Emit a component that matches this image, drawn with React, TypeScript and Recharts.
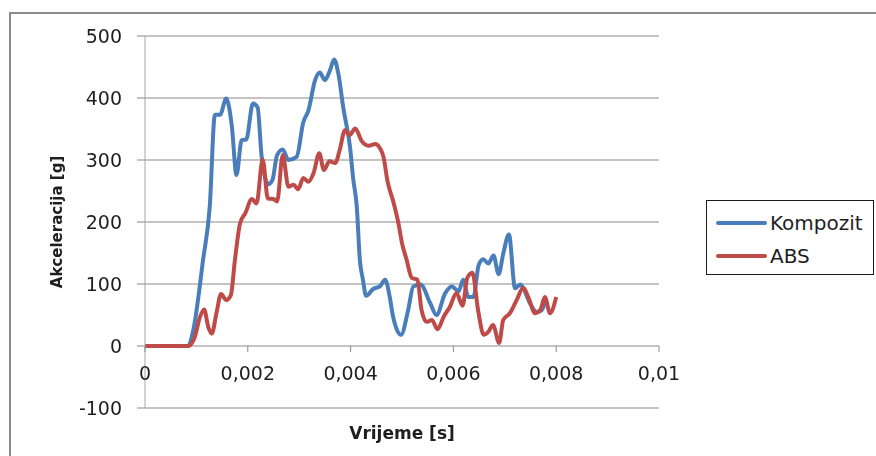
import { CartesianGrid, Label, Line, LineChart, XAxis, YAxis } from "recharts";

// vrijeme u ms, akceleracija u g
const kompozitTime = [
  0, 0.5, 0.84, 0.94, 1.13, 1.26, 1.36, 1.46, 1.58, 1.69, 1.78, 1.88, 1.97, 2.1, 2.19, 2.27, 2.4,
  2.48, 2.57, 2.68, 2.79, 2.95, 3.08, 3.18, 3.31, 3.4, 3.5, 3.6, 3.68, 3.76, 3.86, 3.99, 4.05, 4.12,
  4.18, 4.24, 4.3, 4.44, 4.57, 4.67, 4.76, 4.82, 4.98, 5.12, 5.22, 5.36, 5.55, 5.67, 5.84, 5.97,
  6.1, 6.19, 6.29, 6.39, 6.49, 6.58, 6.68, 6.78, 6.88, 6.97, 7.08, 7.2, 7.3, 7.36, 7.49, 7.62, 7.72,
  7.8,
];
const kompozitAcc = [
  0, 0, 0, 26, 139, 225, 373, 373, 399, 354, 276, 332, 333, 391, 385, 305, 261,
  268, 308, 317, 300, 305, 361, 380, 429, 441, 429, 445, 462, 440, 383, 320, 270, 225,
  139, 107, 81, 92, 96, 107, 80, 50, 18, 58, 96, 99, 69, 50, 85, 96,
  88, 107, 79, 79, 130, 140, 133, 146, 116, 149, 180, 93, 99, 93, 69, 55, 58,
  75,
];

const absTime = [
  0, 0.5, 0.84, 0.97, 1.07, 1.15, 1.23, 1.3, 1.39, 1.48, 1.58, 1.67, 1.75, 1.85, 1.95, 2.08, 2.17,
  2.29, 2.39, 2.5, 2.57, 2.68, 2.79, 2.89, 2.98, 3.08, 3.18, 3.28, 3.39, 3.48, 3.59, 3.7, 3.79, 3.89,
  3.98, 4.09, 4.22, 4.35, 4.48, 4.57, 4.64, 4.72, 4.83, 4.93, 5.0, 5.09, 5.19, 5.3, 5.38, 5.48, 5.58,
  5.69, 5.81, 5.93, 6.06, 6.18, 6.27, 6.37, 6.48, 6.59, 6.68, 6.77, 6.89, 6.97, 7.1, 7.23, 7.36,
  7.46, 7.59, 7.69, 7.78, 7.88, 8.0,
];
const absAcc = [
  0, 0, 0, 15, 47, 59, 31, 20, 53, 84, 74, 82, 139, 198, 214, 237, 230,
  301, 238, 237, 233, 308, 257, 260, 253, 271, 265, 279, 311, 284, 298, 295, 317, 348,
  340, 351, 330, 323, 326, 319, 305, 265, 233, 198, 166, 139, 110, 107, 58, 39, 42,
  27, 47, 63, 85, 65, 110, 118, 58, 18, 23, 34, 5, 42, 53, 74, 94,
  78, 53, 58, 79, 53, 79,
];

const xTicks = [0, 0.002, 0.004, 0.006, 0.008, 0.01];
const yTicks = [-100, 0, 100, 200, 300, 400, 500];

const kompozitData = kompozitTime.map((t, i) => ({ t: t / 1000, v: kompozitAcc[i] }));
const absData = absTime.map((t, i) => ({ t: t / 1000, v: absAcc[i] }));

const BLUE = "#4a7ebb";
const RED = "#be4b48";
const GRID = "#898989";
const TEXT = "#1e1e1e";
const FONT = "'DejaVu Sans', sans-serif";

const W = 868;
const H = 440;
const MARGIN = { top: 28, right: 217, left: 27, bottom: 0 };
const X_AXIS_H = 40;
const PLOT_H = H - MARGIN.top - MARGIN.bottom - X_AXIS_H;
const Y_MIN = -100;
const Y_MAX = 500;
// x os sijece y os u nuli
const ZERO_SHIFT = (PLOT_H * (0 - Y_MIN)) / (Y_MAX - Y_MIN);

const fmtX = (v: number) => String(v).replace(".", ",");

function XTick(props: any) {
  const { x, y, payload } = props;
  const y0 = y - ZERO_SHIFT;
  return (
    <g>
      <line x1={x} x2={x} y1={y0} y2={y0 + 6} stroke={GRID} strokeWidth={1} />
      <text x={x} y={y0 + 34} textAnchor="middle" fill={TEXT} fontSize={19} fontFamily={FONT}>
        {fmtX(payload.value)}
      </text>
    </g>
  );
}

const series = [
  { name: "Kompozit", color: BLUE, data: kompozitData },
  { name: "ABS", color: RED, data: absData },
];

function LegendBox() {
  return (
    <div
      style={{
        position: "fixed",
        left: 706,
        top: 200,
        width: 168,
        height: 75,
        boxSizing: "border-box",
        border: "1.5px solid #1a1a1a",
        background: "#fff",
        paddingTop: 5,
      }}
    >
      {series.map((it) => (
        <div key={it.name} style={{ display: "flex", alignItems: "center", height: 32, marginTop: 1 }}>
          <span
            style={{
              display: "inline-block",
              flex: "none",
              width: 51,
              height: 4,
              marginLeft: 9,
              marginRight: 3,
              background: it.color,
              borderRadius: 2,
            }}
          />
          <span style={{ fontFamily: FONT, fontSize: 20, color: TEXT, whiteSpace: "nowrap" }}>{it.name}</span>
        </div>
      ))}
    </div>
  );
}

export default function App() {
  return (
    <div style={{ position: "relative", width: W, height: H }}>
      <div
        style={{
          position: "fixed",
          left: 9,
          top: 12,
          width: 900,
          height: 500,
          borderTop: "2px solid #8c8c8c",
          borderLeft: "2px solid #8c8c8c",
        }}
      />
      <LineChart width={W} height={H} margin={MARGIN} style={{ position: "relative" }}>
        <CartesianGrid vertical={false} stroke={GRID} strokeWidth={1} />
        <XAxis
          dataKey="t"
          type="number"
          domain={[0, 0.01]}
          ticks={xTicks}
          allowDataOverflow
          height={X_AXIS_H}
          axisLine={false}
          tickLine={false}
          tickSize={0}
          tickMargin={0}
          tick={<XTick />}
        >
          <Label
            value="Vrijeme [s]"
            position="insideBottom"
            offset={9}
            style={{ fontFamily: FONT, fontSize: 17, fontWeight: 700, fill: TEXT }}
          />
        </XAxis>
        <YAxis
          type="number"
          domain={[Y_MIN, Y_MAX]}
          ticks={yTicks}
          width={110}
          axisLine={{ stroke: "#a6a6a6", strokeWidth: 1 }}
          tickLine={{ stroke: GRID }}
          tickSize={8}
          tickMargin={15}
          tick={{ fill: TEXT, fontSize: 19, fontFamily: FONT }}
        >
          <Label
            value="Akceleracija [g]"
            angle={-90}
            position="insideLeft"
            offset={22}
            style={{
              textAnchor: "middle",
              fontFamily: FONT,
              fontSize: 15,
              fontWeight: 700,
              fill: TEXT,
            }}
          />
        </YAxis>
        {series.map((s) => (
          <Line
            key={s.name}
            data={s.data}
            dataKey="v"
            name={s.name}
            type="monotone"
            stroke={s.color}
            strokeWidth={4}
            dot={false}
            isAnimationActive={false}
          />
        ))}
      </LineChart>
      <LegendBox />
    </div>
  );
}
